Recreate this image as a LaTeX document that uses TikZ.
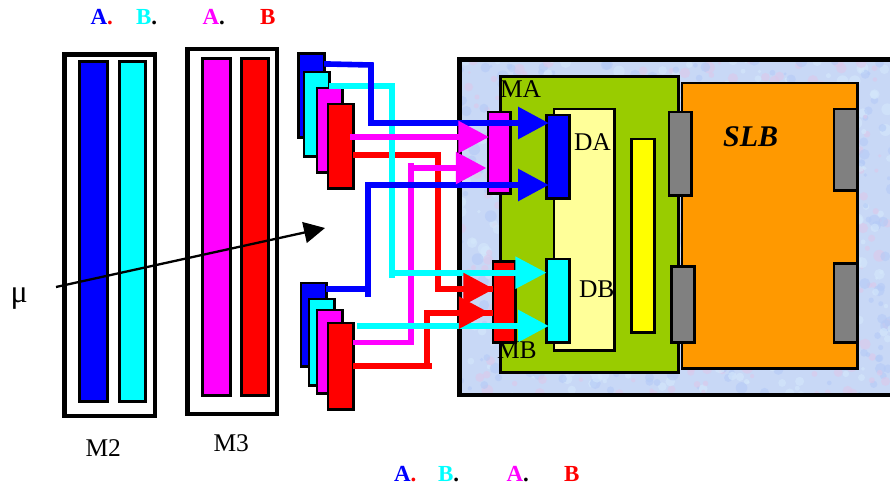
\documentclass[tikz,border=0pt]{standalone}
\usepackage{fontspec}
\setmainfont{Liberation Serif}
\usetikzlibrary{arrows.meta}
\definecolor{texbase}{HTML}{C8D8F6}
\definecolor{texa}{HTML}{DCC8EA}
\definecolor{texb}{HTML}{B4CAF6}
\definecolor{texc}{HTML}{D4E8FB}
\definecolor{greenb}{HTML}{99CC00}
\definecolor{paleb}{HTML}{FFFF99}
\definecolor{orangeb}{HTML}{FF9900}
\definecolor{greyb}{HTML}{808080}
\definecolor{pblue}{RGB}{0,0,255}
\definecolor{pcyan}{RGB}{0,255,255}
\definecolor{pmag}{RGB}{255,0,255}
\definecolor{pred}{RGB}{255,0,0}
\definecolor{pyel}{RGB}{255,255,0}
\newcommand\bx[6]{\node[boxb,fill=#6,minimum width={(#4-#2-2.8)*1pt},minimum height={(#5-#3-2.8)*1pt}] (#1) at ({(#2+#4)/2},{(#3+#5)/2}) {};}
\newcommand\modb[5]{\node[modbox,minimum width={(#4-#2)*1pt},minimum height={(#5-#3)*1pt}] (#1) at ({(#2+#4)/2},{(#3+#5)/2}) {};}
\tikzset{
  boxb/.style={draw=black,line width=2.8pt,inner sep=0pt,outer sep=0pt},
  modbox/.style={draw=black,line width=4.8pt,fill=white,inner sep=0pt,outer sep=0pt},
  conn/.style={line width=5.6pt,line join=miter,line cap=butt},
  conntip/.style={conn,-{Triangle[length=30.5pt,width=31pt]}},
  lbl/.style={anchor=base west,inner sep=0pt,outer sep=0pt,font=\fontsize{25.5}{27}\selectfont},
  chan/.style={anchor=base west,inner sep=0pt,outer sep=0pt,font=\fontsize{23}{25}\selectfont\bfseries},
}
\begin{document}
\begin{tikzpicture}[x=1pt,y=-1pt]
\useasboundingbox (0,0) rectangle (890,487);
\clip (0,0) rectangle (890,487);
% outer textured frame
\fill[white] (0,0) rectangle (890,487);
\fill[texbase] (459.5,59.5) rectangle (900,395);
\begin{scope}
\clip (459.5,59.5) rectangle (900,395);
\pgfmathsetseed{4217}
\foreach \i in {1,...,1100}{
  \pgfmathsetmacro\px{460+rnd*432}
  \pgfmathsetmacro\py{60+rnd*335}
  \pgfmathsetmacro\pr{1.5+rnd*4.5}
  \pgfmathtruncatemacro\pc{int(rnd*3)}
  \ifnum\pc=0 \def\pcol{texa}\fi
  \ifnum\pc=1 \def\pcol{texb}\fi
  \ifnum\pc=2 \def\pcol{texc}\fi
  \fill[\pcol,opacity=.6] (\px,\py) circle[radius=\pr];
}
\end{scope}
\node[draw=black,line width=4.8pt,inner sep=0pt,outer sep=0pt,minimum width=460pt,minimum height=335.5pt] (frame) at (689.5,227.25) {};
% memory modules
\modb{M2box}{64.5}{54.5}{155}{416}
\modb{M3box}{187.5}{49}{277}{414}
\bx{A2}{78}{60}{109}{403}{pblue}
\bx{B2}{118}{60}{147}{403}{pcyan}
\bx{A3}{201}{57}{232}{397}{pmag}
\bx{B3}{240}{57}{270}{397}{pred}
% SLB block
\bx{green}{499}{75}{680}{374}{greenb}
\bx{pale}{552.5}{107.5}{616}{352}{paleb}
\bx{yel}{630}{137.5}{656}{333.5}{pyel}
\bx{slb}{680.5}{81.5}{858.5}{370}{orangeb}
\bx{gl1}{667.5}{110.5}{693}{197}{greyb}
\bx{gl2}{670}{265}{696}{344}{greyb}
\bx{gr1}{832.5}{107.5}{858.5}{192}{greyb}
\bx{gr2}{832.5}{262}{858.5}{344}{greyb}
\bx{MAb}{486.5}{110.5}{511.5}{194.5}{pmag}
\bx{DAb}{545}{113.5}{570.5}{199.5}{pblue}
\bx{MBb}{491.5}{260}{516.5}{344}{pred}
\bx{DBb}{545}{257.5}{570.5}{344}{pcyan}
% upper stack
\bx{t1}{297}{52.5}{325.5}{139}{pblue}
\bx{t2}{302.5}{70.5}{330.5}{157.5}{pcyan}
\bx{t3}{315.5}{86.5}{343.5}{173.5}{pmag}
\bx{t4}{326.5}{102.5}{354.5}{189.5}{pred}
% lower stack
\bx{b1}{299.5}{281.5}{327.5}{367.5}{pblue}
\bx{b2}{307.5}{297.5}{335.5}{386.5}{pcyan}
\bx{b3}{315.5}{308.5}{343.5}{394.5}{pmag}
\bx{b4}{326.5}{321.5}{354.5}{410.5}{pred}
% bends
\coordinate (jb1a) at (371,65);
\coordinate (jb1b) at (371,123);
\coordinate (jb2a) at (368,289);
\coordinate (jb2b) at (368,185);
\coordinate (jc1a) at (392,85.7);
\coordinate (jc1b) at (392,272.7);
\coordinate (jc2) at (357,326);
\coordinate (jm1) at (350,137);
\coordinate (jm2a) at (411,342.5);
\coordinate (jm2b) at (411,168);
\coordinate (jr1a) at (438,155);
\coordinate (jr1b) at (438,289);
\coordinate (jr2a) at (426.7,365.7);
\coordinate (jr2b) at (426.7,312.7);
\coordinate (jm2top) at (411,163);
\coordinate (jc1end) at (392,277.7);
\coordinate (jb2end) at (368,297);
\coordinate (jr2end) at (432,365.7);
\coordinate (jr1stub) at (445,289);
% connectors, back to front
\draw[conn,pmag] (jm2a -| b4.east) -- (jm2a) -- (jm2top);
\draw[conn,pred] (jr1a -| t4.east) -- (jr1a) -- (jr1b) -- (jr1b -| MBb.west);
\draw[conn,pred] (jr2a -| b4.east) -- (jr2end);
\draw[conn,pred] (jr2a) -- (jr2b) -- (jr2b -| MBb.west);
\draw[conn,pcyan,-{Triangle[length=31pt,width=31pt]}] (jc1a -| t2.east) -- (jc1a) -- (jc1b) -- (jc1b -| DBb.west);
\draw[conn,pcyan] (jc1end) -- (jc1b);
\draw[conntip,pcyan,shorten >=-2.3pt] (jc2) -- (jc2 -| DBb.west);
\draw[conntip,pblue,shorten >=-2.3pt] ([yshift=-10pt]t1.north east) -- (jb1a) -- (jb1b) -- (jb1b -| DAb.west);
\draw[conntip,pblue,shorten >=-2.3pt] (jb2a -| b1.east) -- (jb2a) -- (jb2b) -- (jb2b -| DAb.west);
\draw[conn,pblue] (jb2end) -- (jb2a);
\draw[conntip,pmag,shorten >=-1pt] (jm1) -- (jm1 -| MAb.west);
\draw[conntip,pmag,shorten >=1.5pt] (jm2b) -- (jm2b -| MAb.west);
\draw[conntip,pred,shorten >=-1pt] (jr1stub) -- (jr1b -| MBb.west);
\draw[conntip,pred,shorten >=3.5pt] (jr2b) -- (jr2b -| MBb.west);
% mu arrow
\node[lbl,font=\fontsize{32}{34}\selectfont] (mu) at (10.5,302) {μ};
\coordinate (mustart) at (56,287);
\coordinate (muend) at (325,228);
\draw[line width=2.3pt,-{Triangle[length=21pt,width=21pt]}] (mustart) -- (muend);
% labels
\node[lbl] (lM2) at (85.5,456) {M2};
\node[lbl] (lM3) at (213.5,451) {M3};
\node[lbl] (lMA) at (500,97) {MA};
\node[lbl] (lDA) at (574,150) {DA};
\node[lbl] (lDB) at (579,297) {DB};
\node[lbl] (lMB) at (497,358) {MB};
\node[anchor=base west,inner sep=0pt,font=\fontsize{30}{32}\selectfont\bfseries\itshape] (lSLB) at (723,146.5) {SLB};
% channel labels, top
\node[chan,pblue] (ta1) at (90.5,25) {A\textcolor{pred}{.}};
\node[chan,pcyan] (tb1) at (136,25) {B\textcolor{black}{.}};
\node[chan,pmag] (ta2) at (202.5,25) {A\textcolor{black}{.}};
\node[chan,pred] (tb2) at (260,25) {B};
% channel labels, bottom
\node[chan,pblue] (ba1) at (394,481) {A\textcolor{pred}{.}};
\node[chan,pcyan] (bb1) at (438,481) {B\textcolor{black}{.}};
\node[chan,pmag] (ba2) at (506.5,481) {A\textcolor{black}{.}};
\node[chan,pred] (bb2) at (564,481) {B};
\end{tikzpicture}
\end{document}
